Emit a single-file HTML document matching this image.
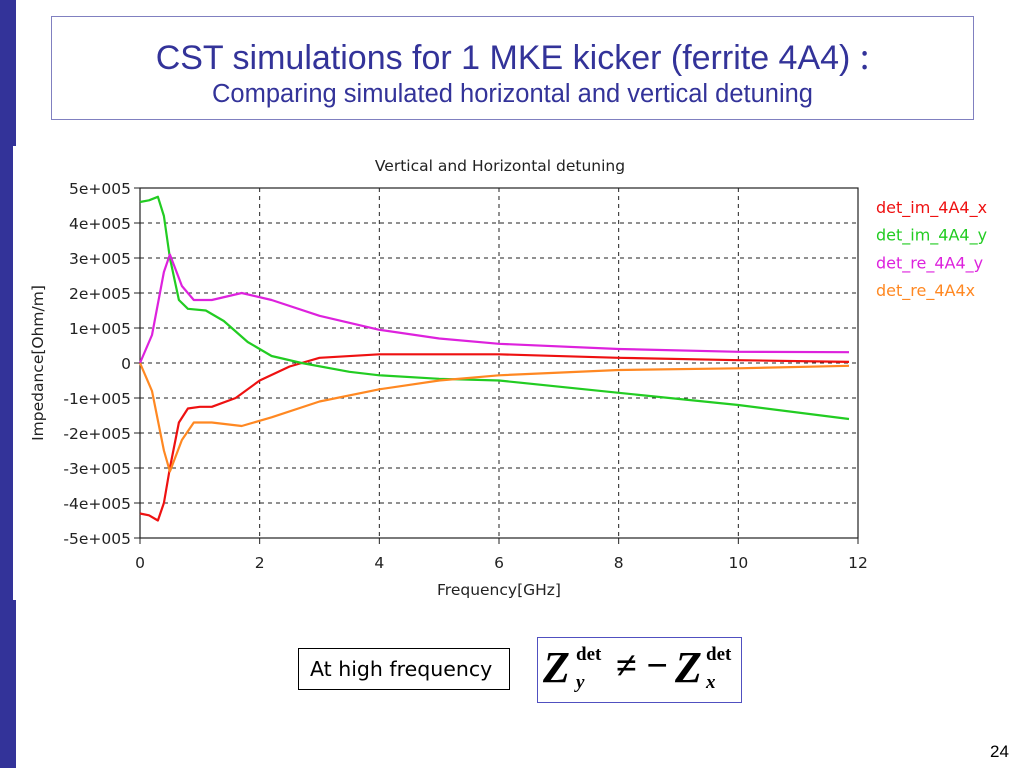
<!DOCTYPE html>
<html><head><meta charset="utf-8"><style>
body{margin:0;width:1024px;height:768px;background:#fff;position:relative;overflow:hidden;font-family:"Liberation Sans",sans-serif}
.abs{position:absolute}
</style></head><body>
<div class="abs" style="left:0;top:0;width:16px;height:768px;background:#333399"></div>
<div class="abs" style="left:51px;top:16px;width:921px;height:102px;border:1px solid #8080c0;background:#fff">
 <div style="position:absolute;left:0;right:0;top:18px;text-align:center;color:#333399;font-size:34px;line-height:40px;white-space:nowrap">CST simulations for 1 MKE kicker (ferrite 4A4)&nbsp;<span style="font-family:'Noto Sans CJK SC',sans-serif">:</span></div>
 <div style="position:absolute;left:0;right:0;top:62px;text-align:center;color:#333399;font-size:25.5px;line-height:30px;white-space:nowrap">Comparing simulated horizontal and vertical detuning</div>
</div>
<div class="abs" style="left:13px;top:146px;width:1011px;height:454px;background:#fff"></div>
<svg class="abs" style="left:0;top:0" width="1024" height="768">
<g id="grid"></g><g id="axes"></g><g id="series"></g><g id="legend"></g>
</svg>
<div class="abs" style="left:298px;top:648px;width:212px;height:42px;border:1px solid #000;box-sizing:border-box;line-height:40px;padding-left:11px;font-family:'DejaVu Sans',sans-serif;font-size:20.5px;white-space:nowrap">At high frequency</div>
<div class="abs" style="left:537px;top:637px;width:205px;height:66px;border:1px solid #5050c0;box-sizing:border-box;font-family:'Liberation Serif',serif;font-weight:bold">
 <span class="abs" style="left:5px;top:4px;font-size:44px;font-style:italic">Z</span>
 <span class="abs" style="left:38px;top:6px;font-size:19px">det</span>
 <span class="abs" style="left:38px;top:34px;font-size:19px;font-style:italic">y</span>
 <span class="abs" style="left:78px;top:6px;font-size:38px">≠ −</span>
 <span class="abs" style="left:137px;top:4px;font-size:44px;font-style:italic">Z</span>
 <span class="abs" style="left:168px;top:6px;font-size:19px">det</span>
 <span class="abs" style="left:168px;top:34px;font-size:19px;font-style:italic">x</span>
</div>
<div class="abs" style="left:990px;top:742px;font-size:17px">24</div>
<script>
const xTicks=[0,2,4,6,8,10,12];
const yTicks=[5,4,3,2,1,0,-1,-2,-3,-4,-5];
const yTickLabels=["5e+005","4e+005","3e+005","2e+005","1e+005","0","-1e+005","-2e+005","-3e+005","-4e+005","-5e+005"];
const seriesNames=["det_im_4A4_x","det_im_4A4_y","det_re_4A4_y","det_re_4A4x"];
const seriesColors=["#ee1111","#22cc22","#dd22dd","#ff8822"];
const imX_f=[0,0.15,0.3,0.4,0.5,0.65,0.8,1.0,1.2,1.6,2,2.5,3,4,6,8,10,11.85];
const imX_v=[-4.3,-4.35,-4.5,-4.0,-3.0,-1.7,-1.3,-1.25,-1.25,-1.0,-0.5,-0.1,0.15,0.25,0.25,0.15,0.08,0.03];
const imY_f=[0,0.15,0.3,0.4,0.5,0.65,0.8,1.1,1.4,1.8,2.2,2.7,3.5,4,5,6,8,10,11.85];
const imY_v=[4.6,4.65,4.75,4.2,3.0,1.8,1.55,1.5,1.2,0.6,0.2,0,-0.25,-0.35,-0.45,-0.5,-0.85,-1.2,-1.6];
const reY_f=[0,0.2,0.4,0.5,0.7,0.9,1.2,1.7,2.2,3,4,5,6,8,10,11.85];
const reY_v=[0,0.8,2.6,3.1,2.2,1.8,1.8,2.0,1.8,1.35,0.95,0.7,0.55,0.4,0.32,0.31];
const reX_f=[0,0.2,0.4,0.5,0.7,0.9,1.2,1.7,2.2,3,4,5,6,8,10,11.85];
const reX_v=[0,-0.8,-2.5,-3.1,-2.2,-1.7,-1.7,-1.8,-1.55,-1.1,-0.75,-0.5,-0.35,-0.2,-0.15,-0.08];
const X0=140,X1=858,Y0=188,Y1=538;
const sx=f=>X0+(f-0)/(12-0)*(X1-X0);
const sy=v=>Y1-(v+5)/10*(Y1-Y0);
const NS="http://www.w3.org/2000/svg";
function mk(tag,attrs,parent,text){const e=document.createElementNS(NS,tag);for(const k in attrs)e.setAttribute(k,attrs[k]);if(text!==undefined)e.textContent=text;document.getElementById(parent).appendChild(e);return e;}
const tf='font-family:"DejaVu Sans",sans-serif;font-size:15.5px;fill:#222';
xTicks.forEach(t=>{const x=sx(t);
 if(t>0&&t<12){const l=mk('line',{x1:x,x2:x,y1:Y0,y2:Y1,stroke:'#222','stroke-dasharray':'4,4'},'grid');}
 mk('line',{x1:x,x2:x,y1:Y1,y2:Y1+6,stroke:'#222'},'axes');
 const tx=mk('text',{x:x,y:Y1+30,'text-anchor':'middle',style:tf},'axes',String(t));});
yTicks.forEach((t,i)=>{const y=sy(t);
 if(t<5&&t>-5){const l=mk('line',{x1:X0,x2:X1,y1:y,y2:y,stroke:'#222','stroke-dasharray':'4,4'},'grid');}
 mk('line',{x1:X0-6,x2:X0,y1:y,y2:y,stroke:'#222'},'axes');
 const tx=mk('text',{x:X0-9,y:y+6,'text-anchor':'end',style:tf},'axes',yTickLabels[i]);});
const fr=mk('rect',{x:X0,y:Y0,width:X1-X0,height:Y1-Y0,fill:'none',stroke:'#222','stroke-width':1.2},'axes');
const ct=mk('text',{x:500,y:171,'text-anchor':'middle',style:tf},'axes','Vertical and Horizontal detuning');
const xt=mk('text',{x:499,y:595,'text-anchor':'middle',style:tf},'axes','Frequency[GHz]');
const yt=mk('text',{x:0,y:0,'text-anchor':'middle',style:tf,transform:'translate(43,363) rotate(-90)'},'axes','Impedance[Ohm/m]');
const data=[[imX_f,imX_v],[imY_f,imY_v],[reY_f,reY_v],[reX_f,reX_v]];
const names=['series-im-x','series-im-y','series-re-y','series-re-x'];
data.forEach((d,i)=>{const pts=d[0].map((f,j)=>sx(f).toFixed(1)+','+sy(d[1][j]).toFixed(1)).join(' ');
 const p=mk('polyline',{points:pts,fill:'none',stroke:seriesColors[i],'stroke-width':2.2,'stroke-linejoin':'round'},'series');
 
 const lt=mk('text',{x:876,y:213+i*27.7,style:'font-family:"DejaVu Sans",sans-serif;font-size:16px;fill:'+seriesColors[i]},'legend',seriesNames[i]);
 });
</script>
</body></html>
